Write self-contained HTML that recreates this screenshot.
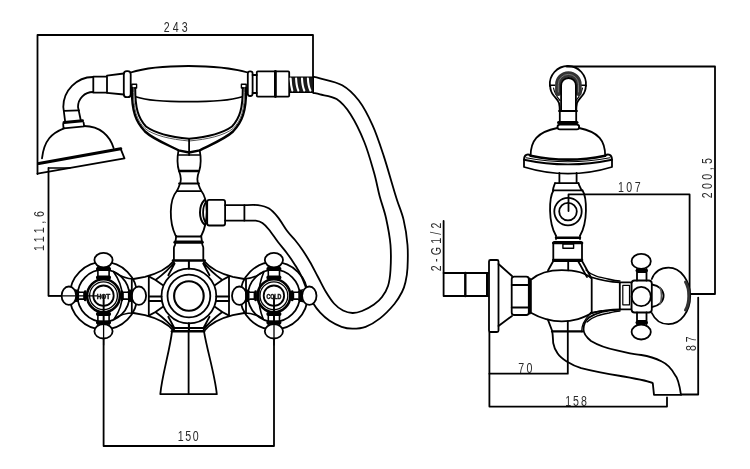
<!DOCTYPE html>
<html><head><meta charset="utf-8">
<style>
html,body{margin:0;padding:0;background:#fff;}
body{width:750px;height:469px;overflow:hidden;}
svg{display:block;will-change:transform;}
text{font-family:"Liberation Sans",sans-serif;fill:#2a2a2a;stroke:none;}
</style></head>
<body>
<svg width="750" height="469" viewBox="0 0 750 469">
<defs>
<g id="handle">
  <circle r="33.8"/>
  <circle r="26"/>
  <circle r="16.4" stroke-width="2.6"/>
  <circle r="13.9" stroke-width="1.3"/>
  <circle r="10.2" stroke-width="1.8"/>
  <!-- vertical arms -->
  <path d="M-5.6 -29 V-16.6 M5.6 -29 V-16.6 M-5.6 29 V16.6 M5.6 29 V16.6" stroke-width="1.6"/>
  <path d="M-5.6 -26.8 H5.6 M-5.6 -18.3 H5.6 M-5.6 26.8 H5.6 M-5.6 18.3 H5.6" stroke-width="4"/>
  <!-- horizontal arms -->
  <path d="M-28.5 -5.8 L-24 -3.4 H-19.5 V3.4 H-24 L-28.5 5.8 M28.5 -5.8 L24 -3.4 H19.5 V3.4 H24 L28.5 5.8" stroke-width="1.6"/>
  <path d="M-26.5 -4.2 V4.2 M26.5 -4.2 V4.2" stroke-width="4.2"/>
  <path d="M-18.3 -4.2 V4.2 M18.3 -4.2 V4.2" stroke-width="2.6"/>
  <ellipse cx="0" cy="-35.6" rx="9.1" ry="7.2" fill="#fff"/>
  <ellipse cx="0" cy="35.6" rx="9.1" ry="7.2" fill="#fff"/>
  <ellipse cx="-34.6" cy="0" rx="7.3" ry="9.2" fill="#fff"/>
  <ellipse cx="35.4" cy="0" rx="7.2" ry="9.2" fill="#fff"/>
</g>
</defs>
<g fill="none" stroke="#000" stroke-width="1.8" stroke-linejoin="round" stroke-linecap="round">

<!-- ================= LEFT VIEW ================= -->
<!-- dim 243 -->
<path d="M37.5 174 V35 H313 V76" stroke-width="1.8"/>
<!-- dim 111.6 -->
<path d="M48.5 168 V295.8 H62" stroke-width="1.8"/>
<path d="M48.5 168 H70" stroke-width="1.3"/>
<!-- dim 150 -->
<path d="M103.6 296 V446 H274 V296" stroke-width="1.8"/>

<!-- elbow -->
<path d="M93 77 A30 30 0 0 0 63.3 107 L65.2 122"/>
<path d="M93 92 A15 15 0 0 0 78 107 L80.8 120.5"/>
<path d="M64 110.8 L79 110.3"/>
<path d="M64 122.5 L82.5 120.8" stroke-width="3"/>
<path d="M63.2 124 L63.5 128.3 L84.2 126.3 L83.6 122.6"/>
<!-- collar segment -->
<path d="M93.3 76.7 H107 V92.7 H93.3 Z"/>
<path d="M107 75.6 L123.8 73.5 M107 92.9 L123.8 94.5"/>
<rect x="123.8" y="71.2" width="6.9" height="26" rx="3"/>
<!-- shower head -->
<path d="M42 158.4 C44 140, 52 133, 64 128.3 M84.2 126 C100 126, 110 136, 113.6 148.1"/>
<path d="M38.8 163.5 L120.7 148.8" stroke-width="3.2"/>
<path d="M120.7 148.8 L124.5 158.4 L37.5 173.7"/>

<!-- handset body -->
<path d="M130.7 72.5 C140 69.5, 160 66, 188.5 66 C217 66, 237 69.5, 247.8 72.5"/>
<path d="M136.6 97 C145 100, 165 101.7, 188.5 101.7 C212 101.7, 232 100, 241.4 97"/>
<rect x="247.8" y="71.4" width="4.8" height="24.6" rx="2.2"/>
<path d="M252.6 75 H256.8 M252.6 93 H256.8"/>
<rect x="256.8" y="71.4" width="32.4" height="25.2" rx="1"/>
<path d="M275.4 71.4 V96.6" stroke-width="2.8"/>
<!-- spiral -->
<rect x="289.6" y="77" width="23.8" height="15.4" fill="#1a1a1a" stroke-width="1.2"/>
<g stroke="#fff" stroke-width="2.1">
<path d="M290.6 78.5 Q290.9 86 292.3 90.5 M296.1 78.5 Q296.4 86 298.3 90.5 M302 78.5 Q302.3 86 304.3 90.5 M307.9 78.5 Q308.2 86 310.4 90.5"/>
</g>
<!-- cradle -->
<path d="M131.8 84.3 H136.6 V88 H131.8 Z" stroke-width="1.4"/>
<path d="M241.4 84.3 H246.2 V88 H241.4 Z" stroke-width="1.4"/>
<path d="M131.8 88 C131.8 112, 136 122, 145 131.5 C153 139, 168 145, 178.5 150.3 L189.1 152.5 L199.7 150.3 C210 145, 225 139, 233 131.5 C242 122, 246.2 112, 246.2 88" stroke-width="2.4"/>
<path d="M135.2 88 C135.2 108, 138 118, 146 126.5 C155 133, 170 137, 189.1 138.8 C208 137, 223 133, 232 126.5 C240 118, 242.8 108, 242.8 88" stroke-width="2"/>
<path d="M133.5 89 C133.5 110, 136.5 120, 145 128.6 C154 135.5, 170 139.3, 189.1 141 C208 139.3, 224 135.5, 233 128.6 C241.5 120, 244.5 110, 244.5 89" stroke-width="1" stroke="#555"/>
<path d="M189.1 139 V155"/>
<path d="M178.5 155 H199.5" stroke-width="1.6"/>
<!-- column -->
<path d="M178.5 150.3 C177 158, 177.5 166, 179 171 C181 176, 181 182, 179.5 185 C178.5 188, 177.5 190, 176.8 191 C169 200, 169 222, 175.6 235.7"/>
<path d="M199.7 150.3 C201.2 158, 200.7 166, 199.2 171 C197.2 176, 197.2 182, 198.7 185 C199.7 188, 200.7 190, 201.4 191 C208.5 200, 208.5 222, 201.2 236"/>

<path d="M179.5 171 H198" stroke-width="2.6"/>
<path d="M179 183.5 H199"/>
<path d="M176.8 191.1 H200.6"/>
<path d="M176.2 236.5 H201.2"/>
<path d="M175 242.2 H202.2" stroke-width="3.2"/>
<path d="M176.2 236 L175.2 244 C175 246, 173.9 246, 173.9 248 V260 M201.2 236 L202.2 244 C202.4 246, 203.3 246, 203.3 248 V260"/>
<path d="M173 260.5 H204.6" stroke-width="2.6"/>
<!-- side outlet -->
<path d="M204.5 200 C198.5 206, 198.5 219, 204.5 224.6" stroke-width="2"/>
<path d="M206.3 201.5 C202 207, 202 218, 206.3 223.5" stroke-width="1.8"/>
<rect x="207.2" y="199.9" width="17.9" height="25.6" rx="2"/>
<path d="M225.1 205.2 H244.4 V220.6 H225.1"/>
<!-- hose -->
<path d="M313.2 76.8 C314.3 77.0 315.2 76.9 320.0 78.3 C324.8 79.7 335.7 81.5 342.2 85.2 C348.7 88.9 353.7 93.8 358.8 100.5 C363.9 107.2 368.5 116.2 372.6 125.4 C376.8 134.6 380.5 146.2 383.7 155.9 C386.9 165.6 389.8 176.2 392.0 183.6 C394.2 190.9 395.1 193.9 397.0 200.0 C398.9 206.1 401.9 212.4 403.6 219.9 C405.4 227.4 406.9 237.0 407.5 245.0 C408.1 253.0 407.8 261.8 407.5 268.0 C407.2 274.2 406.4 278.0 405.5 282.0 C404.6 286.0 403.9 288.3 402.0 292.0 C400.1 295.7 398.1 299.6 394.4 304.0 C390.7 308.4 384.8 314.6 380.0 318.4 C375.2 322.2 370.2 325.1 365.6 326.8 C361.0 328.5 356.4 328.6 352.4 328.6 C348.4 328.6 345.4 328.1 341.6 326.8 C337.8 325.5 333.2 323.2 329.6 320.8 C326.0 318.4 322.8 315.4 320.0 312.4 C317.2 309.4 315.2 306.7 313.0 303.0 C310.8 299.3 309.0 294.6 307.0 290.0 C305.0 285.4 303.0 279.6 301.0 275.4 C299.0 271.2 297.3 268.6 295.0 264.9 C292.7 261.2 289.8 257.0 287.0 253.2 C284.2 249.4 281.0 245.9 278.0 242.0 C275.0 238.1 271.7 232.9 269.1 229.7 C266.5 226.5 264.6 224.5 262.4 223.0 C260.2 221.5 258.7 221.1 255.7 220.7 C252.7 220.3 246.3 220.7 244.4 220.7"/>
<path d="M313.2 92.8 C314.3 93.1 316.1 93.4 320.0 94.4 C323.9 95.5 331.5 95.8 336.6 99.1 C341.7 102.4 345.9 107.1 350.5 114.3 C355.1 121.5 360.4 132.3 364.3 142.0 C368.2 151.7 371.4 163.5 374.0 172.5 C376.6 181.5 377.6 188.4 379.6 196.0 C381.6 203.6 384.2 209.8 386.0 218.0 C387.8 226.2 389.8 236.3 390.5 245.0 C391.2 253.7 390.9 263.2 390.5 270.0 C390.1 276.8 389.4 281.5 388.0 286.0 C386.6 290.5 384.3 293.9 382.0 297.0 C379.7 300.1 377.3 302.2 374.0 304.5 C370.7 306.8 365.6 309.6 362.0 311.0 C358.4 312.4 355.7 313.1 352.5 313.0 C349.3 312.9 346.1 312.1 343.0 310.5 C339.9 308.9 336.8 306.6 334.0 303.5 C331.2 300.4 328.7 296.4 326.0 292.0 C323.3 287.6 320.7 282.0 318.0 277.0 C315.3 272.0 312.6 266.5 310.0 262.0 C307.4 257.5 305.0 253.7 302.5 250.0 C300.0 246.3 297.6 243.2 295.0 240.0 C292.4 236.8 289.8 234.6 287.0 230.8 C284.2 227.0 281.0 221.1 278.0 217.4 C275.0 213.7 272.4 210.6 269.1 208.6 C265.8 206.6 262.1 205.8 258.0 205.2 C253.9 204.6 246.7 205.2 244.4 205.2"/>

<!-- body -->
<use href="#handle" x="103.5" y="295.7"/>
<use href="#handle" x="273.9" y="295.7"/>
<path d="M113.5 271.7 Q130.3 295.2 114.4 318.6" stroke-width="1.6"/>
<path d="M113.5 271.7 C119 275.5, 125 279, 133.5 279 M114.4 318.6 C119 315.5, 125 313, 133.5 313" stroke-width="1.6"/>
<path d="M263.9 271.7 Q254 295.2 263 318.6" stroke-width="1.6"/>
<path d="M263.9 271.7 C258.4 275.5, 252.4 279, 243.9 279 M263 318.6 C258.4 315.5, 252.4 313, 243.9 313" stroke-width="1.6"/>
<path d="M48.5 295.8 H97 M103.6 300 V345 M274 300 V345" stroke-width="1.3"/>
<circle cx="188.9" cy="296" r="27.4"/>
<circle cx="188.9" cy="296" r="21.4"/>
<circle cx="188.9" cy="296" r="14.8" stroke-width="2.1"/>
<path d="M188.9 261 V268.8 M188.9 323.2 V331" stroke-width="2"/>
<!-- wings -->
<path d="M173.6 261 C168 268, 160 273, 145 276.8 L133.5 279"/>
<path d="M204.2 261 C209.8 268, 217.8 273, 232.8 276.8 L244.3 279"/>
<path d="M173.6 331 C168 324, 160 319, 145 315.2 L133.5 313"/>
<path d="M204.2 331 C209.8 324, 217.8 319, 232.8 315.2 L244.3 313"/>
<path d="M174 262.5 C170 268, 165 273, 155.5 280 L148.8 276.4 M155.5 280 L162.6 285 M174.6 263.5 L168.3 275.2" stroke-width="1.8"/>
<path d="M203.8 262.5 C207.8 268, 212.8 273, 222.3 280 L229 276.4 M222.3 280 L215.2 285 M203.2 263.5 L209.5 275.2" stroke-width="1.8"/>
<path d="M174 329.5 C170 324, 165 319, 155.5 312 L148.8 315.6 M155.5 312 L162.6 307 M174.6 328.5 L168.3 316.8" stroke-width="1.8"/>
<path d="M203.8 329.5 C207.8 324, 212.8 319, 222.3 312 L229 315.6 M222.3 312 L215.2 307 M203.2 328.5 L209.5 316.8" stroke-width="1.8"/>
<path d="M148.8 276.5 V315.5 M229 276.5 V315.5"/>
<path d="M148.8 296.5 H161.6 M148.8 301 H161.6 M229 296.5 H216.2 M229 301 H216.2"/>
<path d="M131.8 279 V313 M246 279 V313"/>
<!-- spout -->
<path d="M172 331.3 H204" stroke-width="2.6"/>
<path d="M172 331.3 C170 350, 162 375, 160.3 394.2 H216.8 C215 375, 207 350, 204 331.3"/>
<path d="M188.6 331.3 V394.2"/>
<path d="M188.9 323.4 V331.3 M175 328 H203"/>

<!-- labels on handles -->
</g>

<!-- text -->
<text x="103.5" y="298.6" font-size="6.5" font-weight="bold" text-anchor="middle" textLength="13.5" lengthAdjust="spacingAndGlyphs" style="fill:#111;stroke:#111;stroke-width:0.45">HOT</text>
<text x="273.9" y="298.6" font-size="6.5" font-weight="bold" text-anchor="middle" textLength="15" lengthAdjust="spacingAndGlyphs" style="fill:#111;stroke:#111;stroke-width:0.45">COLD</text>
<text font-size="15.2" text-anchor="middle" letter-spacing="4.50" transform="translate(177.25 31.50) scale(0.7 1)">243</text>
<text font-size="15.2" text-anchor="middle" letter-spacing="2.36" transform="translate(189.00 441.00) scale(0.7 1)">150</text>
<text font-size="15.2" text-anchor="middle" letter-spacing="5.29" transform="translate(43.50 229.25) rotate(-90) scale(0.7 1)">111,6</text>

<g fill="none" stroke="#000" stroke-width="1.8" stroke-linejoin="round" stroke-linecap="round">
<!-- ================= RIGHT VIEW ================= -->
<!-- dims -->
<path d="M566.8 66.5 H715 V294 H689.6" stroke-width="1.8"/>
<path d="M568.5 211 V194.4 H689.6 V294" stroke-width="1.8"/>
<path d="M698.2 297.6 V394.5 H681" stroke-width="1.8"/>
<path d="M489.4 332 V406.6 H667 V397.4" stroke-width="1.8"/>
<path d="M489.4 373.7 H567.8 V321.5" stroke-width="1.8"/>
<path d="M443.6 221 V273" stroke-width="1.8"/>

<!-- hook -->
<path d="M549.9 86 A18.1 18.1 0 1 1 585.9 86"/>
<path d="M549.8 85.2 H555 M581 85.2 H586" stroke-width="1.4"/>
<path d="M550.2 86 C550.2 90, 551.5 93, 553.8 95.8 C556 98.5, 558.2 100.5, 559 103 C559.7 106, 559.8 109, 559.8 112 V122 M585.8 86 C585.8 90, 584.5 93, 582.2 95.8 C580 98.5, 577.8 100.5, 577 103 C576.3 106, 576.2 109, 576.2 112 V122"/>
<path d="M553.5 88 C554.5 93, 557 97, 560 100.5 M582.5 88 C581.5 93, 579 97, 576 100.5" stroke-width="1.2"/>
<path d="M558.1 93 V84.5 A10.3 10.3 0 0 1 578.7 84.5 V93" stroke-width="6" stroke="#333"/>
<path d="M558.3 92 V84.5 A10.1 10.1 0 0 1 578.5 84.5 V92" stroke-width="0.8" stroke="#888"/>
<path d="M561.1 111 V85.4 A7.4 7.4 0 0 1 575.9 85.4 V111"/>
<path d="M559 111 H577"/>
<path d="M558.5 122.6 H577" stroke-width="3"/>
<rect x="557.5" y="124.6" width="21.7" height="4.8" rx="2.4"/>
<!-- dome -->
<path d="M530.6 156 C530.6 141, 537 132, 557.3 128 M579.1 128 C599 132, 605.2 141, 605.2 156"/>
<path d="M530.6 155.6 C528 153.5, 524 154.5, 524 159.7 V167 Q568 180.4 612 167 V159.7 C612 154.5, 608 153.5, 605.2 155.6"/>
<path d="M530.6 155.7 Q568 163.5 605.2 155.7" stroke-width="2.6"/>
<path d="M526 157.8 Q568 165.7 610 157.8" stroke-width="1.1"/>
<path d="M524 159.7 Q568 169 612 159.7" stroke-width="1.9"/>
<!-- stem/bulb -->
<path d="M559.4 173 V183.2 M576.6 173 V183.2"/>
<path d="M555 183.2 H578.5"/>
<path d="M555 183.2 C554 186, 553 188, 553 190.3 M578.5 183.2 C579 186, 581 188, 581.5 190.3"/>
<path d="M553 190.3 H582"/>
<path d="M553.5 190.3 C549 198, 548 222, 556 235.8 M582.5 190.3 C587 198, 588 222, 580 235.8"/>
<path d="M556 237.8 H580" stroke-width="2.4"/>
<path d="M556 235.8 V239.5 M580 235.8 V239.5" stroke-width="1.4"/>
<circle cx="568" cy="211.6" r="13.7"/>
<circle cx="568" cy="211.6" r="8.8"/>
<!-- block -->
<rect x="553.3" y="242" width="28.7" height="19" rx="1"/>
<path d="M553.3 243 H582" stroke-width="2.6"/>
<path d="M553.3 260 H582" stroke-width="2.6"/>
<rect x="562.9" y="244" width="10.7" height="4.2" stroke-width="1.4"/>
<path d="M553.3 261 L548 270.5 M582 261 C585 266, 588 272, 590.7 277 M568.2 261 V270.3 M578 261 C581 266, 584 272, 587 277"/>
<!-- body -->
<path d="M530.9 279.8 C540 272, 552 270.2, 561.8 270.2 C572 270.2, 585 272, 591.7 278.7 V312.8 C585 318, 572 321.4, 561.8 321.4 C552 321.4, 540 318, 530.9 312.8 Z"/>
<!-- hex nut -->
<rect x="511.7" y="276.6" width="17.1" height="38.4" rx="2.5"/>
<path d="M511.7 285 H528.8 M511.7 307.5 H528.8"/>
<path d="M529.5 279 V313" stroke-width="3"/>
<!-- cone + flange -->
<path d="M498.5 264 L512 276 M498.5 326 L512 316"/>
<rect x="489" y="260" width="9.5" height="72" rx="1.5"/>
<!-- pipe -->
<path d="M488.2 273 H443.6 V296 H488.2"/>
<path d="M465.3 273 V296" stroke-width="2.4"/>
<path d="M487.2 274 V295" stroke-width="2.4"/>
<!-- lower stub + spout -->
<path d="M552.2 331.4 H582" stroke-width="2.4"/>
<path d="M547.9 319.6 L552.2 331 C553 336, 553 340, 553.2 343 C554 347, 555 350, 557.3 352.9 C560 357, 563 359, 566.7 361.4 C571 364, 576 366.5, 581.2 368.2 C594 371.5, 608 374, 620.8 376 C635 378.5, 650 381, 652.8 383.3 L654 394.9 H681 C680 388, 678 378, 674.6 374.4 C670 366, 665 363, 661.8 361.5 C655 358, 648 356, 641.3 355 C635 354, 632 353.8, 630 353.3 C626 352.4, 622 351.5, 616.9 350.4 C605 348, 596 344, 591 341 C586 337, 583.5 333, 583.5 329.3 C583.5 325, 585 321, 589 317.6 C597 312, 610 310, 620.4 309.6"/>
<!-- handle neck -->
<path d="M590.7 277 C600 280, 610 282, 619.8 282.4 M590.7 313 C600 311, 610 309.5, 619.8 309.3"/>
<path d="M586 270 C592 276, 600 277.5, 608 279 C614 280.5, 617 281, 620 281" stroke-width="1.3"/>
<path d="M587 322 C593 316, 601 314.5, 609 313 C615 311.5, 618 311, 620 311" stroke-width="1.3"/>
<path d="M581.7 331.7 C581.5 326, 583 321, 589.9 314.1 C594 312, 598 311, 601.7 310.6" stroke-width="1.3"/>
<rect x="619.8" y="282.4" width="11.9" height="26.9" rx="1"/>
<rect x="622.8" y="285.4" width="6.7" height="19.4" stroke-width="1.2"/>
<!-- knob -->
<path d="M651.8 279 C655 271, 661 267.7, 668.5 267.7 C681 267.7, 690.2 281, 690.2 296 C690.2 311, 681 324.2, 668.5 324.2 C661 324.2, 655 320, 651.8 313" fill="#fff"/>
<path d="M685.5 282 C688 286, 688.8 291, 688.8 296 C688.8 301, 688 306, 685.5 310" stroke-width="3" stroke="#333"/>
<path d="M652 284.5 C659 285.5, 663.6 290, 663.6 295.8 C663.6 301.5, 659 306, 652 307" stroke-width="1.8"/>
<path d="M660 287.5 C662 291, 662 300, 660 304" stroke-width="1.6" stroke="#555"/>
<!-- hub -->
<rect x="631.6" y="280.5" width="20.2" height="32" rx="3" fill="#fff"/>
<circle cx="641.2" cy="296.5" r="9.6"/>
<path d="M637 268.8 V280.5 M646.5 268.8 V280.5 M637 272 H646.5" />
<path d="M637 270.5 H646.5" stroke-width="3"/>
<path d="M637 312.5 V324 M646.5 312.5 V324 M637 321 H646.5"/>
<path d="M637 322.5 H646.5" stroke-width="3"/>
<ellipse cx="641.2" cy="261.3" rx="9.6" ry="7.5" fill="#fff"/>
<ellipse cx="641.2" cy="332" rx="9.6" ry="7.5" fill="#fff"/>
</g>

<text font-size="15.2" text-anchor="middle" letter-spacing="3.36" transform="translate(630.50 192.00) scale(0.7 1)">107</text>
<text font-size="15.2" text-anchor="middle" letter-spacing="3.21" transform="translate(526.50 373.00) scale(0.7 1)">70</text>
<text font-size="15.2" text-anchor="middle" letter-spacing="2.79" transform="translate(577.00 406.00) scale(0.7 1)">158</text>
<text font-size="15.2" text-anchor="middle" letter-spacing="4.86" transform="translate(712.00 176.50) rotate(-90) scale(0.7 1)">200,5</text>
<text font-size="15.2" text-anchor="middle" letter-spacing="4.07" transform="translate(695.50 342.25) rotate(-90) scale(0.7 1)">87</text>
<text font-size="15.2" text-anchor="middle" letter-spacing="4.59" transform="translate(440.50 245.25) rotate(-90) scale(0.7 1)">2-G1/2</text>
</svg>
</body></html>
